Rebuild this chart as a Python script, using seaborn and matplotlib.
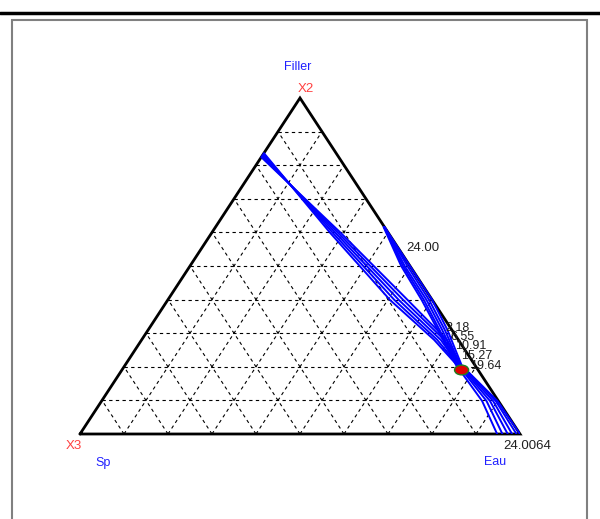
import numpy as np
import pandas as pd
import seaborn as sns
import matplotlib.pyplot as plt
from matplotlib.patches import Ellipse, Rectangle
from matplotlib.lines import Line2D

# ternary points are (eau, filler); sp = 1 - eau - filler
# band from the left edge down to the optimum
a_eau = [[0.000, 0.270, 0.505, 0.665, 0.765],
         [0.000, 0.276, 0.515, 0.672, 0.770],
         [0.000, 0.282, 0.525, 0.680, 0.774],
         [0.000, 0.288, 0.535, 0.688, 0.778],
         [0.000, 0.294, 0.545, 0.694, 0.780]]
a_filler = [[0.836, 0.598, 0.399, 0.280, 0.196],
            [0.833, 0.598, 0.399, 0.280, 0.193],
            [0.830, 0.598, 0.399, 0.280, 0.190],
            [0.827, 0.598, 0.399, 0.280, 0.188],
            [0.824, 0.598, 0.399, 0.280, 0.186]]
# band along the right edge
b_eau = [[0.384, 0.500, 0.601, 0.680, 0.772],
         [0.384, 0.494, 0.594, 0.674, 0.770],
         [0.384, 0.488, 0.588, 0.668, 0.768],
         [0.383, 0.484, 0.582, 0.662, 0.766],
         [0.382, 0.480, 0.577, 0.658, 0.764]]
b_filler = [[0.616, 0.500, 0.399, 0.310, 0.196],
            [0.616, 0.500, 0.399, 0.310, 0.195],
            [0.616, 0.500, 0.399, 0.310, 0.194],
            [0.616, 0.500, 0.399, 0.310, 0.193],
            [0.616, 0.500, 0.399, 0.310, 0.192]]
# band from the optimum to the Eau corner
c_eau = [[0.762, 0.865, 0.948],
         [0.768, 0.875, 0.960],
         [0.772, 0.883, 0.972],
         [0.776, 0.890, 0.982],
         [0.780, 0.896, 0.992],
         [0.782, 0.900, 1.000]]
c_filler = [[0.196, 0.098, 0.0],
            [0.195, 0.098, 0.0],
            [0.194, 0.098, 0.0],
            [0.193, 0.098, 0.0],
            [0.192, 0.098, 0.0],
            [0.191, 0.098, 0.0]]

levels = ['2.18', '6.55', '10.91', '15.27', '19.64']
opt_eau, opt_filler = 0.772, 0.1905


def to_xy(eau, filler):
    eau = np.asarray(eau)
    filler = np.asarray(filler)
    return eau + filler / 2, filler


rows = []
k = 0
for E, F in [(a_eau, a_filler), (b_eau, b_filler), (c_eau, c_filler)]:
    for e, f in zip(E, F):
        x, y = to_xy(e, f)
        for xi, yi in zip(x, y):
            rows.append({'line': k, 'x': xi, 'y': yi})
        k += 1
df = pd.DataFrame(rows)

sns.set_style('white')
plt.rcParams['font.family'] = ['Liberation Sans', 'DejaVu Sans']

fig = plt.figure(figsize=(6, 5.19), dpi=100)
W, H = 600, 519
ax = fig.add_axes([80 / W, (H - 434) / H, 440 / W, 336 / H])

# frame
fig.add_artist(Line2D([0, 1], [1 - 12.5 / H, 1 - 12.5 / H], color='black', lw=2.5,
                      transform=fig.transFigure))
fig.add_artist(Rectangle((12 / W, -0.05), 575 / W, 1.05 - 20 / H, fill=False,
                         edgecolor='#808080', lw=1.5, transform=fig.transFigure))

# dashed grid
for i in range(1, 10):
    t = i / 10
    gd = dict(color='black', lw=0.8, ls=(0, (3, 3)), zorder=1)
    ax.plot([t / 2, 1 - t / 2], [t, t], **gd)
    x, y = to_xy([t, t], [0, 1 - t])
    ax.plot(x, y, **gd)
    x, y = to_xy([1 - t, 0], [0, 1 - t])
    ax.plot(x, y, **gd)

# triangle
ax.plot([0, 1, 0.5, 0], [0, 0, 1, 0], color='black', lw=2, zorder=2,
        clip_on=False, solid_joinstyle='miter')


def ftext(px, py, s, **kw):
    fig.text(px / W, 1 - py / H, s, **kw)


# contour labels (under the lines)
tk = dict(fontsize=9.5, color='#202020', va='center', ha='left', zorder=2)
ftext(406, 248, '24.00', **tk)
for (px, py), s in zip([(445, 328), (450, 337), (455, 346), (461, 356), (470, 366)], levels):
    ftext(px, py, s, fontsize=9, color='#202020', va='center', ha='left', zorder=2)
ftext(503, 446, '24.0064', **tk)

sns.lineplot(data=df, x='x', y='y', units='line', estimator=None, sort=False,
             color='#0000ff', lw=1.4, ax=ax, zorder=3, legend=False)
ax.set_xlim(0, 1)
ax.set_ylim(0, 1)
ax.axis('off')

ox, oy = to_xy(opt_eau, opt_filler)
ax.add_patch(Ellipse((ox, oy), 0.032, 0.029, facecolor='#e00000',
                     edgecolor='#208020', lw=1, zorder=4))

# corner labels
ftext(298, 67, 'Filler', fontsize=9, color='#2020ff', ha='center', va='center')
ftext(306, 89, 'X2', fontsize=9.5, color='#ff4040', ha='center', va='center')
ftext(74, 446, 'X3', fontsize=9.5, color='#ff4040', ha='center', va='center')
ftext(103, 463, 'Sp', fontsize=9, color='#2020ff', ha='center', va='center')
ftext(495, 462, 'Eau', fontsize=9, color='#2020ff', ha='center', va='center')

fig.savefig('out.png', dpi=100)
